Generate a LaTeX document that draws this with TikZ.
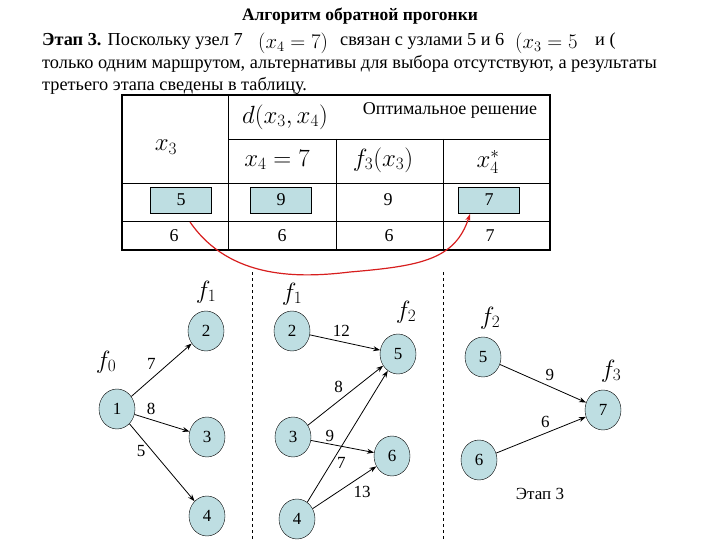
\documentclass[tikz,border=0pt]{standalone}
\usepackage{fontspec}
\setmainfont{Liberation Serif}
\setsansfont{Liberation Serif}
\usetikzlibrary{shapes.geometric,arrows.meta}
\definecolor{nb}{RGB}{190,222,226}
\definecolor{rd}{RGB}{215,30,30}
\begin{document}
\rmfamily
\begin{tikzpicture}[x=1pt,y=-1pt,font=\rmfamily,
  v/.style={ellipse,draw,fill=nb,minimum width=36,minimum height=40,inner sep=0,font=\rmfamily\fontsize{17}{17}\selectfont},
  e/.style={-{Stealth[length=7,width=5]},line width=0.8},
  el/.style={font=\rmfamily\fontsize{17}{17}\selectfont},
  fl/.style={font=\fontsize{25}{25}\selectfont},
  tx/.style={font=\rmfamily\fontsize{18.3}{20}\selectfont,anchor=west,inner sep=0},
  cell/.style={font=\rmfamily\fontsize{18}{18}\selectfont},
  mth/.style={font=\fontsize{25}{25}\selectfont},
  hb/.style={draw,fill=nb,minimum width=61,minimum height=26,inner sep=0,font=\rmfamily\fontsize{18}{18}\selectfont}]
\useasboundingbox (0,0) rectangle (720,540);
% text
\node[font=\rmfamily\bfseries\fontsize{17.5}{17.5}\selectfont] (title) at (360,16) {Алгоритм обратной прогонки};
\node[tx] (l1a) at (42,41) {\textbf{Этап 3.} Поскольку узел 7};
\node[tx,font=\fontsize{22}{22}\selectfont] (l1b) at (258,43) {$(x_4=7)$};
\node[tx] (l1c) at (340,41) {связан с узлами 5 и 6};
\node[tx,font=\fontsize{22}{22}\selectfont] (l1d) at (515,43) {$(x_3=5$};
\node[tx] (l1e) at (595,41) {и (};
\node[tx] (l2) at (42,64) {только одним маршрутом, альтернативы для выбора отсутствуют, а результаты};
\node[tx] (l3) at (42,86) {третьего этапа сведены в таблицу.};
% table
\draw[line width=1.2] (122,95) rectangle (550,250);
\draw (228,95) -- (228,250) (228,139) -- (550,139) (336,139) -- (336,250) (443,139) -- (443,250)
      (122,183) -- (550,183) (122,221) -- (550,221);
\node[mth] (hx3) at (166,147) {$x_3$};
\node[mth] (hd) at (285,117) {$d(x_3,x_4)$};
\node[cell] (hopt) at (450,110) {Оптимальное решение};
\node[mth] (hx4) at (277,160) {$x_4=7$};
\node[mth] (hf3) at (383,160) {$f_3(x_3)$};
\node[mth] (hxs) at (488,162) {$x_4^{*}$};
\node[hb] (c11) at (181,200) {5};
\node[hb] (c12) at (281,200) {9};
\node[cell] (c13) at (388,200) {9};
\node[hb] (c14) at (489,200) {7};
\node[cell] (c21) at (174,236) {6};
\node[cell] (c22) at (282,236) {6};
\node[cell] (c23) at (389,236) {6};
\node[cell] (c24) at (490,236) {7};
\coordinate (rs) at (190,222);
\coordinate (re) at (470,214);
\draw[rd,line width=1.2,-{Stealth[length=7,width=5]}] (rs) .. controls (230,280) and (300,278) .. (350,272) .. controls (420,266) and (455,260) .. (re);
% dashed separators
\draw[dashed] (252,272) -- (252,540) (443,272) -- (443,540);
% graph left
\node[v] (n1) at (117,409) {1};
\node[v] (n2) at (206,331) {2};
\node[v] (n3) at (207,437) {3};
\node[v] (n4) at (207,516) {4};
\node[fl] (f0) at (106,362) {$f_0$};
\node[fl] (f1a) at (206,292) {$f_1$};
\draw[e] (n1) -- node[el,pos=0.45,above left=-1] {7} (n2);
\draw[e] (n1) -- node[el,pos=0.3,above=1] {8} (n3);
\draw[e] (n1) -- node[el,pos=0.35,left=3] {5} (n4);
% middle
\node[v] (m2) at (292,331) {2};
\node[v] (m5) at (398,354) {5};
\node[v] (m3) at (293,437) {3};
\node[v] (m6) at (392,456) {6};
\node[v] (m4) at (297,519) {4};
\node[fl] (f1b) at (292,294) {$f_1$};
\node[fl] (f2a) at (406,312) {$f_2$};
\draw[e] (m2) -- node[el,pos=0.45,above=2] {12} (m5);
\draw[e] (m3) -- node[el,pos=0.5,above left=-1] {8} (m5);
\draw[e] (m3) -- node[el,pos=0.3,above=-1] {9} (m6);
\draw[e] (m4) -- node[el,pos=0.3,right=2] {7} (m5);
\draw[e] (m4) -- node[el,pos=0.6,below right=-1] {13} (m6);
% right
\node[v] (r5) at (483,357) {5};
\node[v] (r6) at (479,460) {6};
\node[v] (r7) at (603,410) {7};
\node[fl] (f2b) at (490,318) {$f_2$};
\node[fl] (f3) at (611,371) {$f_3$};
\draw[e] (r5) -- node[el,pos=0.5,above right=-1] {9} (r7);
\draw[e] (r6) -- node[el,pos=0.55,above=2] {6} (r7);
\node[el] (st) at (540,494) {Этап 3};
\end{tikzpicture}
\end{document}
